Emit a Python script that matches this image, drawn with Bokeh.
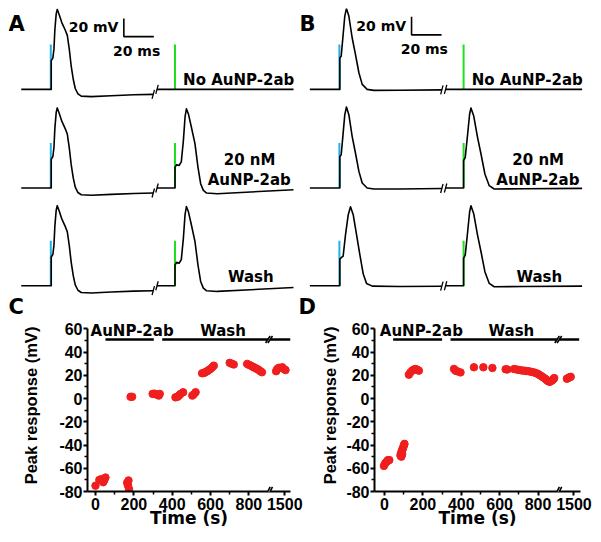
from bokeh.plotting import figure
from bokeh.models import Range1d, Label, FixedTicker, Arrow
from bokeh.layouts import column, row
from bokeh.embed import file_html
from bokeh.resources import INLINE

FONT = "DejaVu Sans"
TICK_FONT = "Liberation Sans"
BLUE = "#22b0e6"
GREEN = "#1fe01f"
RED = "#f01e1e"

# ---------------- trace data: ms after stimulus, mV above resting level ----------------
# Panel A: response to blue stimulus / green stimulus
a1_t = [0, 0, 1.1, 1.8, 2.4, 3.3, 4.0, 5.3, 7.1, 9.3, 10.7, 12.0, 13.3, 14.7, 16.0, 17.8, 20.0, 26.7, 40.0, 55.0, 68.0]
a1_v = [0, 32, 35, 45, 66, 84, 89, 83, 74, 66, 60, 45, 26, 11, 1, -5, -7.5, -8, -7, -6, -5.5]
a2_t = [0, 0, 1.1, 2.7, 4.2, 5.6, 6.7, 7.6, 8.9, 10.9, 13.3, 15.3, 17.1, 18.9, 21.1, 28.2, 50.4, 79.0]
a2_v = [0, 23, 26, 25, 29, 53, 79, 88, 82.6, 67.8, 49.3, 23.3, 4.8, -2.6, -5.6, -6.3, -4.4, -1.9]
# Panel B: response to blue stimulus (before / after wash) and green stimulus
b1_t = [0, 0, 0.9, 2.2, 3.3, 4.4, 6.0, 8.2, 10.4, 12.7, 14.9, 18.2, 22.7, 40.0, 68.0]
b1_v = [0, 35, 37, 61, 81.5, 90, 81.5, 57.4, 38.9, 18.5, 5.6, 0, -1.1, -1.0, -0.5]
b1w_t = [0, 0, 1.1, 2.2, 3.8, 5.6, 7.1, 8.9, 11.1, 13.3, 15.6, 17.8, 21.6, 40.0, 68.0]
b1w_v = [0, 29.6, 31.5, 33, 57, 79, 87.8, 79, 57, 35, 13, 2.6, -0.4, -0.8, -0.5]
b2_t = [0, 0, 1.1, 2.7, 4.0, 4.9, 6.7, 9.3, 11.6, 14.2, 17.1, 20.4, 40.0, 79.0]
b2_v = [0, 30.4, 34, 60, 82, 88.9, 80.4, 56.3, 37.8, 15.6, 2.6, -1.1, -0.8, -0.4]
none_t = [0, 79.0]
none_v = [0, 0]
conditions = ["No AuNP-2ab", "20 nM", "Wash"]
stim_height = 50      # mV, drawn stimulus marker
stim_interval = 82.5  # ms between blue and green stimulus (display)

# ---------------- peak response data (time s, mV) ----------------
timeC = [0, 20, 30, 40, 45, 52, 165, 170, 172, 175, 183, 191, 298, 308, 318, 330, 335,
         417, 428, 435, 443, 457, 505, 512, 522, 556, 566, 574, 583, 591, 600, 609, 617,
         700, 710, 721, 791, 800, 809, 818, 826, 835, 843, 852, 860, 868,
         1455, 1461, 1470, 1487, 1495, 1504]
peakC = [-75, -70, -69.5, -72, -70.5, -68, -72.5, -75, -70.5, -78, 1.5, 1.5, 4, 4.2, 3.4, 2.5, 4,
         1, 1.5, 2.5, 4, 5.4, 2.5, 3.5, 5.4, 21.7, 22, 22.8, 23.5, 24.6, 25.5, 26.9, 28.3,
         30.7, 30, 29.3, 29.8, 29, 28.4, 27.5, 26.9, 26, 25.5, 24.5, 23.5, 22.6,
         23.5, 25.5, 26.5, 26.9, 25.5, 24.5]
timeD = [-3, 3, 8, 13, 18, 25, 83, 86, 88, 89, 92, 92, 96, 99, 102, 104,
         127, 135, 144, 153, 162, 170, 179, 362, 370, 379, 396, 466, 515, 562,
         631, 640, 675, 688, 701, 714, 727, 740, 753, 766, 779, 790, 800, 808, 817, 826,
         835, 842, 849, 856, 862, 869, 875, 880, 884, 1463, 1470, 1477, 1483]
peakD = [-58, -56, -55, -54, -53, -53, -49, -47, -50, -46, -44, -48, -43, -41, -40, -39,
         20.5, 22.5, 24, 25, 25.4, 24.8, 24, 25.5, 24, 23.4, 22.5, 26.9, 26.9, 26.3,
         25.2, 25, 25.4, 25, 24.6, 24.2, 24, 23.6, 23.4, 22.9, 22.5, 21.8, 21.1, 20.2, 19.3, 18.3,
         17.3, 16.3, 15.3, 14.6, 14.4, 15.2, 15.9, 16.8, 17.6, 17, 17.6, 18.3, 18.7]
aunpC = [52, 304]
washC = [348, 1530]
aunpD = [45, 300]
washD = [344, 1527]
x_ticks = [0, 200, 400, 600, 800, 1500]
x_minor = [100, 300, 500, 700]
y_ticks = [-80, -60, -40, -20, 0, 20, 40, 60]
y_minor = [-70, -50, -30, -10, 10, 30, 50]

BREAK_AT = 1500 - 987   # broken time axis: values after the break are shifted
BREAK_L, BREAK_R = 899, 911


def disp(t):
    return t if t < 1200 else t - BREAK_AT


def lbl(p, x, y, text, size="15px", align="left", baseline="alphabetic", **kw):
    p.add_layout(Label(x=x, y=y, text=text, text_font=FONT, text_font_size=size,
                       text_font_style="bold", text_align=align, text_baseline=baseline,
                       text_color="black", **kw))


# ---------------- top: traces ----------------
top = figure(width=585, height=311, x_range=Range1d(0, 390), y_range=Range1d(0, 345.6),
             output_backend="svg", toolbar_location=None, min_border=0,
             x_axis_location=None, y_axis_location=None, outline_line_color=None)
top.xgrid.visible = False
top.ygrid.visible = False
T = 5.0   # text baseline lift (mV units of the trace canvas)

panels = [("A", 28.5, 0.0, [(a1_t, a1_v, none_t, none_v), (a1_t, a1_v, a2_t, a2_v), (a1_t, a1_v, a2_t, a2_v)]),
          ("B", 220.9, 194.0, [(b1_t, b1_v, none_t, none_v), (b1_t, b1_v, b2_t, b2_v), (b1w_t, b1w_v, b2_t, b2_v)])]
bases = [255.7, 146.1, 37.5]
scalebars = [(76.9, 314.4), (268.7, 316.3)]

for (letter, x0, lx, rows), (sx, sy) in zip(panels, scalebars):
    for (t1, v1, t2, v2), base, cond in zip(rows, bases, conditions):
        xs2 = x0 + stim_interval
        top.segment(x0=[x0 - 0.3], y0=[base], x1=[x0 - 0.3], y1=[base + stim_height], color=BLUE, line_width=2)
        top.segment(x0=[xs2], y0=[base], x1=[xs2], y1=[base + stim_height], color=GREEN, line_width=2)
        x1 = [x0 - 20] + [x0 + t for t in t1]
        y1 = [base] + [base + v for v in v1]
        x2 = [xs2 - 12] + [xs2 + t for t in t2]
        y2 = [base] + [base + v for v in v2]
        top.line(x1, y1, color="black", line_width=1.6, line_join="round")
        top.line(x2, y2, color="black", line_width=1.6, line_join="round")
        for bx, by in [(x1[-1], y1[-1]), (x2[0], y2[0])]:
            top.segment(x0=[bx - 0.8], y0=[by - 5], x1=[bx + 0.8], y1=[by + 5], color="black", line_width=1.3)
        if cond == "No AuNP-2ab":
            lbl(top, x0 + 162, base + 5 + T, cond, align="right")
        elif cond == "20 nM":
            lbl(top, x0 + 132.2, base + 26 + T, "20 nM", align="center")
            lbl(top, x0 + 132, base + 3.7 + T, "AuNP-2ab", align="center")
        else:
            lbl(top, x0 + 133, base + 4.8 + T, cond, align="center")
    top.line([sx, sx, sx + 20], [sy + 20, sy, sy], color="black", line_width=1.6)
    lbl(top, sx - 3.6, sy + 5.3 + T, "20 mV", size="14px", align="right")
    lbl(top, sx + 8.5, sy - 21 + T, "20 ms", size="14px", align="center")
    lbl(top, lx, 323.8 + T, letter, size="21px")

# panel letters of the lower row (drawn in the top canvas, just above the lower plots)
lbl(top, 0.0, 14.4, "C", size="21px")
lbl(top, 193.3, 14.4, "D", size="21px")


# ---------------- bottom: peak responses ----------------
def peak_panel(t, v, xr, left, right, width, aunp, wash, txt_x, ylab_standoff):
    p = figure(width=width, height=215, x_range=Range1d(*xr), y_range=Range1d(-80, 68),
               output_backend="svg", toolbar_location=None,
               min_border_left=left, min_border_right=right, min_border_top=0, min_border_bottom=43,
               outline_line_color=None)
    p.xgrid.visible = False
    p.ygrid.visible = False
    shown = [disp(x) for x in x_ticks]
    p.xaxis.ticker = FixedTicker(ticks=shown, minor_ticks=x_minor)
    p.xaxis.major_label_overrides = {s: str(x) for s, x in zip(shown, x_ticks)}
    p.yaxis.ticker = FixedTicker(ticks=y_ticks, minor_ticks=y_minor)
    p.yaxis.major_label_overrides = {y: str(y) for y in y_ticks}
    p.yaxis.bounds = (-80, 60)
    p.xaxis.axis_label = "Time (s)"
    p.yaxis.axis_label = "Peak response (mV)"
    for ax in (p.xaxis[0], p.yaxis[0]):
        ax.axis_line_width = 2
        ax.major_tick_line_width = 2
        ax.minor_tick_line_width = 1.5
        ax.major_tick_in = 0
        ax.major_tick_out = 4
        ax.minor_tick_in = 0
        ax.minor_tick_out = 3
        ax.major_label_text_font = TICK_FONT
        ax.major_label_text_font_size = "16px"
        ax.major_label_text_font_style = "bold"
        ax.major_label_text_color = "black"
        ax.axis_label_text_font_style = "bold"
        ax.axis_label_text_color = "black"
    p.xaxis.axis_label_text_font = FONT
    p.xaxis.axis_label_text_font_size = "17px"
    p.yaxis.axis_label_text_font = TICK_FONT
    p.yaxis.axis_label_text_font_size = "16.5px"
    p.xaxis.major_label_standoff = 2
    p.xaxis.axis_label_standoff = -5
    p.yaxis.major_label_standoff = 1
    p.yaxis.axis_label_standoff = ylab_standoff

    p.scatter([disp(x) for x in t], v, size=7.5, color=RED, line_color=RED)
    yb = 50.8
    p.segment(x0=[disp(aunp[0])], y0=[yb], x1=[disp(aunp[1])], y1=[yb], color="black", line_width=2.5)
    p.segment(x0=[disp(wash[0]), BREAK_R], y0=[yb, yb], x1=[BREAK_L, disp(wash[1])], y1=[yb, yb],
              color="black", line_width=2.5)
    p.segment(x0=[BREAK_L - 12, BREAK_R - 12], y0=[yb - 3, yb - 3], x1=[BREAK_L + 12, BREAK_R + 12],
              y1=[yb + 3, yb + 3], color="black", line_width=1.6)
    # break mark on the time axis: gap in the axis line plus two slashes
    p.add_layout(Arrow(end=None, x_start=BREAK_L + 1, y_start=-80, x_end=BREAK_R - 1, y_end=-80,
                       line_width=4, line_color="white"))
    for bx in (BREAK_L, BREAK_R):
        p.add_layout(Arrow(end=None, x_start=bx - 12, y_start=-84, x_end=bx + 12, y_end=-76,
                           line_width=1.6, line_color="black"))
    lbl(p, disp(txt_x[0]), 58.5, "AuNP-2ab", align="center")
    lbl(p, disp(txt_x[1]), 58.5, "Wash", align="center")
    return p


pc = peak_panel(timeC, peakC, (-41.7, 1017), 79, 18, 300, aunpC, washC, (191, 665), 16)
pd_ = peak_panel(timeD, peakD, (-52, 1021), 66, 13, 285, aunpD, washD, (192, 661), 4)

layout = column(top, row(pc, pd_), margin=(8, 8, 8, 8))
open("out.html", "w").write(file_html(layout, INLINE, "Peak response"))
